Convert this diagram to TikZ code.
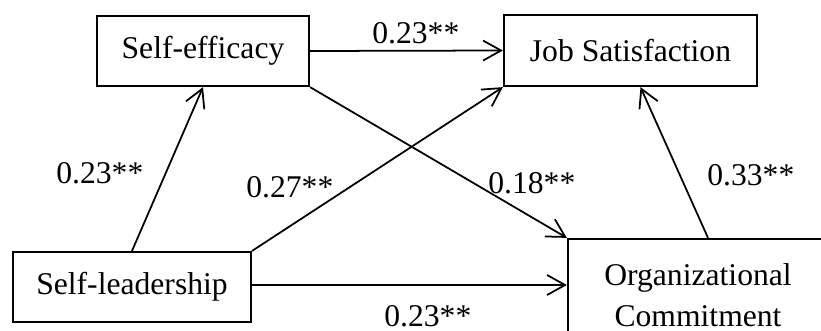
\documentclass[tikz,border=0pt]{standalone}
\usepackage{fontspec}
\setmainfont{Liberation Serif}
\usetikzlibrary{arrows.meta}
\tikzset{var box/.style={draw,line width=1.3pt,font=\fontsize{18}{23.3}\selectfont,inner sep=0cm,align=center},
path label/.style={font=\fontsize{18}{23.3}\selectfont,anchor=base west,inner sep=0cm},
path arrow/.style={line width=1pt,-{Straight Barb[length=0.36cm,width=0.4cm,line width=1pt]}}}

\begin{document}
\begin{tikzpicture}[x=0.02cm,y=-0.02cm]
\clip (0,0) rectangle (821,331);

%% Coordinates of nodes.
\coordinate (c1) at (203,51);
\coordinate (c2) at (630.5,50.5);
\coordinate (c3) at (132,287);
\coordinate (c4) at (698,295);

%% boxes
\node [var box,minimum width=4.24cm,minimum height=1.4cm] (se) at (c1) {Self-efficacy};
\node [var box,minimum width=5.06cm,minimum height=1.42cm] (js) at (c2) {Job Satisfaction};
\node [var box,minimum width=4.76cm,minimum height=1.4cm] (sl) at (c3) {Self-leadership};
\node [var box,minimum width=5.2cm,minimum height=2.24cm] (oc) at (c4) {Organizational\\Commitment};

%% arrows
\draw [path arrow] (se.east) -- (js.west);
\draw [path arrow] (sl.north) -- (se.south);
\draw [path arrow] (sl.north east) -- (js.south west);
\draw [path arrow] (se.south east) -- (oc.north west);
\draw [path arrow] ([xshift=0.2cm]oc.north) -- ([xshift=0.2cm]js.south);
\draw [path arrow] ([yshift=0.04cm]sl.east) -- ([yshift=0.04cm]sl.east -| oc.west);

%% path coefficients
\node [path label] (l1) at (372,44) {0.23**};
\node [path label] (l2) at (56,183) {0.23**};
\node [path label] (l3) at (246,197) {0.27**};
\node [path label] (l4) at (488,193) {0.18**};
\node [path label] (l5) at (707,185) {0.33**};
\node [path label] (l6) at (384,326) {0.23**};

\end{tikzpicture}
\end{document}
